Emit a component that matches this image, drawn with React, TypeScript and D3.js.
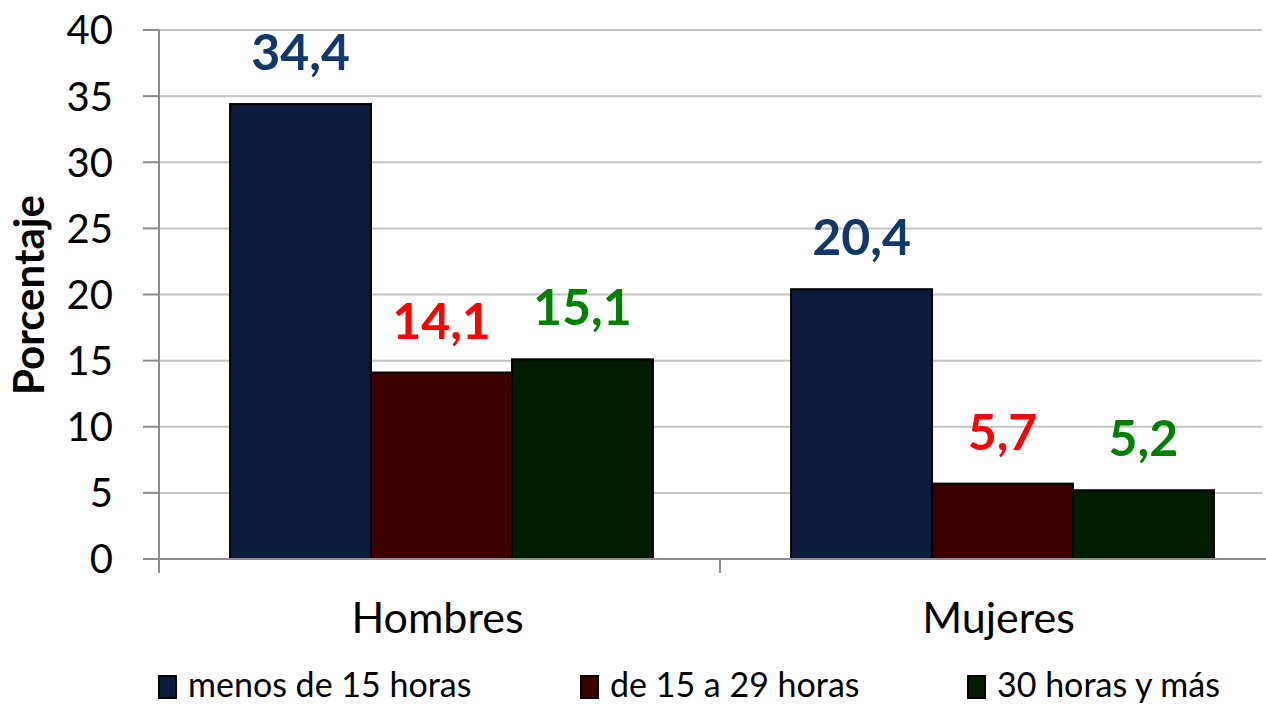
import React from 'react';
import { scaleBand, scaleLinear } from 'd3';

const categories = ['Hombres', 'Mujeres'];
const series = ['menos de 15 horas', 'de 15 a 29 horas', '30 horas y más'];
const hombres = [34.4, 14.1, 15.1];
const mujeres = [20.4, 5.7, 5.2];
const yTicks = [0, 5, 10, 15, 20, 25, 30, 35, 40];

const values = [hombres, mujeres];
const fills = ['#0c1a3c', '#3c0000', '#011c03'];
const labelColors = ['#10386a', '#ff0000', '#008000'];

const width = 1266;
const height = 706;
const left = 159;
const right = 1281;
const top = 30;
const bottom = 559;
const font = 'Lato, "Open Sans", sans-serif';

const x0 = scaleBand().domain(categories).range([left, right]);
const x1 = scaleBand().domain(series).range([2, x0.bandwidth() + 2]).paddingInner(0).paddingOuter(0.49);
const y = scaleLinear().domain([0, 40]).range([bottom, top]);

const fmt = (v: number) => v.toFixed(1).replace('.', ',');

const legendX = [158, 580, 967];

const App = () => {
    return (
        <svg width={width} height={height} style={{ position: 'absolute', left: 0, top: 0 }}>
            <rect width={width} height={height} fill="#fff" />
            {/* gridlines + y ticks */}
            {yTicks.map(t => (
                <g key={t}>
                    {t > 0 && <line x1={left} x2={1262} y1={y(t)} y2={y(t)} stroke="#c4c4c4" strokeWidth={2} />}
                    <line x1={143} x2={left} y1={y(t)} y2={y(t)} stroke="#8c8c8c" strokeWidth={2} />
                    <text x={113} y={y(t)} dy="0.36em" textAnchor="end" fontFamily={font} fontSize={40} fill="#000">{t}</text>
                </g>
            ))}
            <line x1={left} x2={left} y1={top} y2={bottom} stroke="#8c8c8c" strokeWidth={2} />
            {/* bars */}
            {categories.map((c, ci) => (
                <g key={c} transform={`translate(${x0(c)},0)`}>
                    {series.map((s, si) => {
                        const v = values[ci][si];
                        const bx = x1(s) as number;
                        return (
                            <g key={s}>
                                <rect x={bx} y={y(v)} width={x1.bandwidth()} height={bottom - y(v)} fill={fills[si]} stroke="#000" strokeWidth={2} />
                                <text x={bx + x1.bandwidth() / 2} y={y(v) - 34} textAnchor="middle" fontFamily={font} fontWeight="bold" fontSize={50} fill={labelColors[si]}>{fmt(v)}</text>
                            </g>
                        );
                    })}
                    <text x={x0.bandwidth() / 2 - 2} y={633} textAnchor="middle" fontFamily={font} fontSize={43} fill="#000">{c}</text>
                </g>
            ))}
            {/* x axis */}
            <line x1={left} x2={1266} y1={bottom} y2={bottom} stroke="#8c8c8c" strokeWidth={2} />
            {categories.map(c => (
                <line key={c} x1={x0(c)} x2={x0(c)} y1={bottom} y2={573} stroke="#8c8c8c" strokeWidth={2} />
            ))}
            {/* y title */}
            <text transform="translate(44,295) rotate(-90)" textAnchor="middle" fontFamily={font} fontWeight="bold" fontSize={42} fill="#000">Porcentaje</text>
            {/* legend */}
            {series.map((s, i) => (
                <g key={s} transform={`translate(${legendX[i]},0)`}>
                    <rect x={1} y={676} width={17} height={22} fill={fills[i]} stroke="#000" strokeWidth={2} />
                    <text x={30} y={697} fontFamily={font} fontSize={34} fill="#000">{s}</text>
                </g>
            ))}
        </svg>
    );
};

export default App;
